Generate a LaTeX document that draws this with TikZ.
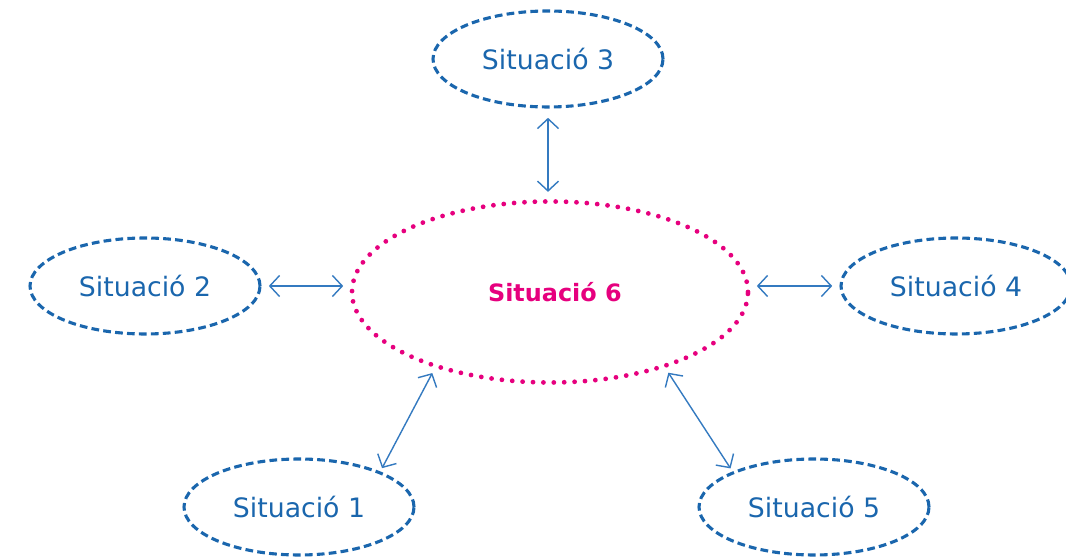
\documentclass[tikz,border=0pt]{standalone}
\usepackage{fontspec}
\setmainfont{DejaVu Sans}
\usepackage{tikz}
\usepackage{xcolor}
\usetikzlibrary{arrows.meta,shapes,positioning,shapes.geometric}
\definecolor{situblue}{RGB}{26,102,173}
\definecolor{linkblue}{RGB}{52,122,192}
\definecolor{centrepink}{RGB}{230,0,126}

\tikzset{
    situ/.style={ellipse, draw=situblue, line width=2.2pt, dash pattern=on 5.5pt off 3pt,
        minimum width=5.75cm, minimum height=2.4cm, inner sep=0pt, outer sep=0pt,
        text=situblue, font=\fontsize{19}{21}\selectfont},
    centre/.style={ellipse, draw=centrepink, line width=3.4pt, line cap=round,
        dash pattern=on 0pt off 7.4pt, minimum width=9.9cm, minimum height=4.525cm,
        inner sep=0pt, outer sep=0pt, text=centrepink,
        font=\fontsize{17}{20}\selectfont\bfseries},
    link/.style={linkblue, line width=1pt,
        {Straight Barb[length=7pt,width=15pt]}-{Straight Barb[length=7pt,width=15pt]},
        shorten <=2.2mm, shorten >=2.2mm}
}

\begin{document}
\begin{tikzpicture}
    \useasboundingbox (0,0) rectangle (26.65,13.975);

    % Central situation
    \node[centre] (s6) at (13.75,6.675) {\raisebox{-2.5pt}{\hspace{7pt}Situació 6}};

    % Surrounding situations
    \node[situ] (s3) at (13.7,12.5) {Situació 3};
    \node[situ] (s2) at (3.625,6.825) {Situació 2};
    \node[situ] (s4) at (23.9,6.825) {Situació 4};
    \node[situ] (s1) at (7.475,1.3) {Situació 1};
    \node[situ] (s5) at (20.35,1.3) {Situació 5};

    % Links
    \draw[link, shorten <=2.7mm, shorten >=2.4mm] (s3.south) -- (s3.south |- s6.north);
    \draw[link] (s2.east) -- (s2.east -| s6.west);
    \draw[link] (s4.west -| s6.east) -- (s4.west);
    \draw[link, shorten <=1.3mm, shorten >=2mm] (s1.23) -- (s6.213);
    \draw[link, shorten <=1.3mm, shorten >=2mm] (s5.157) -- (s6.327);
\end{tikzpicture}
\end{document}
